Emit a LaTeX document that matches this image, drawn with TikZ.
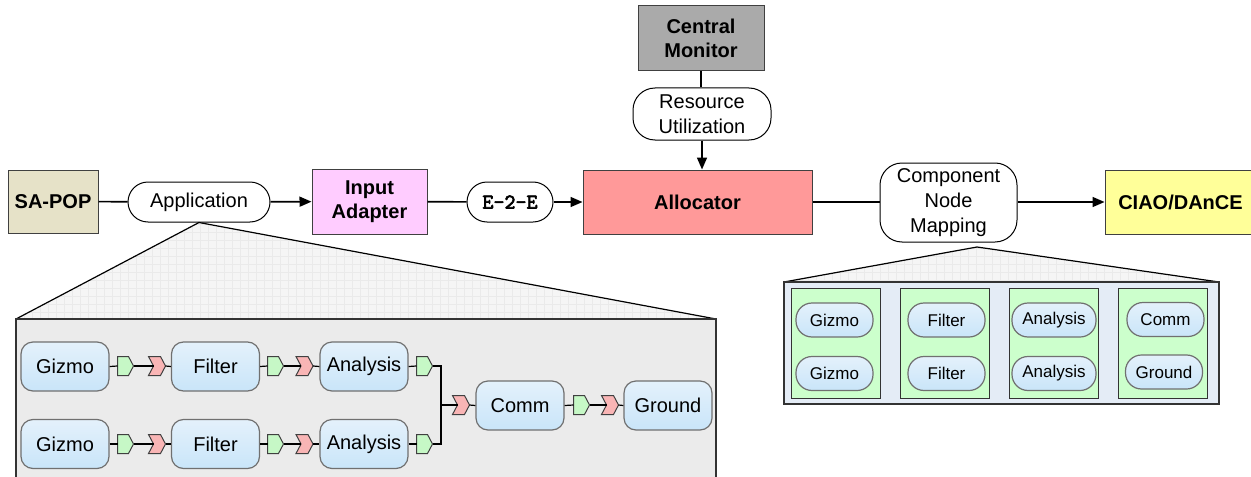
\documentclass[tikz,border=0pt]{standalone}
\usepackage{fontspec}
\setmainfont{Liberation Sans}
\newfontfamily\etefont[FakeBold=3]{Latin Modern Mono}
\usetikzlibrary{arrows.meta}
\definecolor{sapopc}{HTML}{E6E2C8}
\definecolor{iac}{HTML}{FFCCFF}
\definecolor{allocc}{HTML}{FF9999}
\definecolor{cmc}{HTML}{AAAAAA}
\definecolor{ciaoc}{HTML}{FFFF99}
\definecolor{comptop}{HTML}{E4F1FB}
\definecolor{compbot}{HTML}{C9E5F9}
\definecolor{compline}{HTML}{707070}
\definecolor{portgreen}{HTML}{C6F8C6}
\definecolor{portred}{HTML}{F9B5B5}
\definecolor{panelgray}{HTML}{EBEBEB}
\definecolor{trigray}{HTML}{F5F5F5}
\definecolor{gridc}{HTML}{EAEAEA}
\definecolor{panelblue}{HTML}{E4ECF6}
\definecolor{colgreen}{HTML}{CCFFCC}
\tikzset{
  box/.style={draw=black!75, line width=0.5pt, inner sep=0pt, align=center,
    font=\fontsize{10}{12}\selectfont\bfseries},
  pill/.style={draw=black, line width=0.5pt, fill=white, inner sep=0pt, align=center,
    font=\fontsize{10}{12.3}\selectfont},
  conn/.style={line width=0.8pt},
  arr/.style={line width=0.8pt, -{Triangle[length=6pt,width=5pt]}},
  comp/.style={draw=compline, line width=0.6pt, rounded corners=6pt, top color=comptop,
    bottom color=compbot, minimum width=44pt, minimum height=24.5pt, inner sep=0pt,
    font=\fontsize{10}{12}\selectfont},
  mcomp/.style={draw=compline, line width=0.6pt, rounded corners=8pt, top color=comptop,
    bottom color=compbot, minimum width=38.5pt, minimum height=17pt, inner sep=0pt,
    font=\fontsize{8.5}{10}\selectfont},
  colbox/.style={draw=black!80, line width=0.5pt, fill=colgreen, minimum width=44.5pt,
    minimum height=55pt, inner sep=0pt},
  pline/.style={line width=0.6pt},
  outport/.pic={\filldraw[fill=portgreen, draw=black!75, line width=0.5pt]
      (-8,-9.5) -- (3,-9.5) -- (8,0) -- (3,9.5) -- (-8,9.5) -- cycle;
    \coordinate (-w) at (-8,0); \coordinate (-e) at (8,0);},
  inport/.pic={\filldraw[fill=portred, draw=black!75, line width=0.5pt]
      (-8.5,-9.5) -- (3.5,-9.5) -- (8.5,0) -- (3.5,9.5) -- (-8.5,9.5) -- (-3.5,0) -- cycle;
    \coordinate (-w) at (-3.5,0); \coordinate (-e) at (8.5,0);}
}
\begin{document}
\begin{tikzpicture}[x=0.5pt,y=-0.5pt]
\useasboundingbox (0,0) rectangle (1251,476);

% top row nodes
\node[box, fill=sapopc, minimum width=45pt, minimum height=31.5pt] (sapop) at (53,201.5) {SA-POP};
\node[pill, rounded corners=10pt, minimum width=71pt, minimum height=20pt] (app) at (199,202) {Application};
\node[box, fill=iac, minimum width=57.5pt, minimum height=32.5pt] (ia) at (369.5,201.5) {Input\\Adapter};
\node[pill, rounded corners=10pt, minimum width=43pt, minimum height=20pt,
  font=\etefont\fontsize{10.5}{11}\selectfont] (e2e) at (510,202) {E–2–E};
\node[box, fill=allocc, minimum width=114.5pt, minimum height=32pt] (alloc) at (697.5,202) {Allocator};
\node[box, fill=cmc, minimum width=63pt, minimum height=32.5pt] (cm) at (701,38.5) {Central\\Monitor};
\node[pill, rounded corners=11pt, minimum width=69pt, minimum height=26pt] (ru) at (702,114) {Resource\\Utilization};
\node[pill, rounded corners=11pt, minimum width=68.5pt, minimum height=39.5pt] (cnm) at (948.5,202.5) {Component\\Node\\Mapping};
\node[box, fill=ciaoc, minimum width=75.5pt, minimum height=32pt] (ciao) at (1180.5,202) {CIAO/DAnCE};

% connectors top row
\draw[conn] (sapop) -- (app);
\draw[arr] (app) -- (ia);
\draw[conn] (ia) -- (e2e);
\draw[arr] (e2e) -- (alloc);
\draw[conn] (cm.south) -- (cm.south |- ru.north);
\draw[arr] (ru.south) -- (ru.south |- alloc.north);
\draw[conn] (alloc.east) -- (alloc.east -| cnm.west);
\draw[arr] (cnm.east |- ciao.west) -- (ciao.west);

% left magnification
\coordinate (lpTL) at (16,319);
\coordinate (lpTR) at (716,319);
\coordinate (lpBR) at (716,490);
\begin{scope}
  \clip (app.south) -- (lpTL) -- (lpTR) -- cycle;
  \fill[trigray] (0,200) rectangle (760,330);
  \draw[gridc, line width=0.3pt, step=4pt] (0,200) grid (760,330);
\end{scope}
\draw[line width=0.6pt] (lpTL) -- (app.south) -- (lpTR);
\filldraw[fill=panelgray, draw=black!80, line width=0.6pt] (lpTL) rectangle (lpBR);

% components
\node[comp] (g1) at (65,366.5) {Gizmo};
\node[comp] (f1) at (215.5,366.5) {Filter};
\node[comp] (a1) at (364,366.5) {Analysis};
\node[comp] (g2) at (65,444) {Gizmo};
\node[comp] (f2) at (215.5,444) {Filter};
\node[comp] (a2) at (364,444) {Analysis};
\node[comp] (comm) at (520,405.5) {Comm};
\node[comp] (gnd) at (668,405.5) {Ground};

% ports
\pic (g1o) at (125.5,366) {outport};
\pic (g1i) at (157,366) {inport};
\pic (f1o) at (275.5,366) {outport};
\pic (f1i) at (304.5,366) {inport};
\pic (a1o) at (424.5,366) {outport};
\pic (g2o) at (125.5,444) {outport};
\pic (g2i) at (157,444) {inport};
\pic (f2o) at (275.5,444) {outport};
\pic (f2i) at (304.5,444) {inport};
\pic (a2o) at (424.5,444) {outport};
\pic (ci) at (461,405) {inport};
\pic (co) at (581.5,405) {outport};
\pic (gi) at (610,405) {inport};

\coordinate (jtop) at (441,366);
\coordinate (jbot) at (441,444);
\coordinate (jmid) at (441,405);

\draw[pline] (g1.east) -- (g1o-w);
\draw[pline] (g1o-e) -- (g1i-w);
\draw[pline] (g1i-e) -- (f1.west);
\draw[pline] (f1.east) -- (f1o-w);
\draw[pline] (f1o-e) -- (f1i-w);
\draw[pline] (f1i-e) -- (a1.west);
\draw[pline] (a1.east) -- (a1o-w);
\draw[pline] (g2.east) -- (g2o-w);
\draw[pline] (g2o-e) -- (g2i-w);
\draw[pline] (g2i-e) -- (f2.west);
\draw[pline] (f2.east) -- (f2o-w);
\draw[pline] (f2o-e) -- (f2i-w);
\draw[pline] (f2i-e) -- (a2.west);
\draw[pline] (a2.east) -- (a2o-w);
\draw[pline] (a1o-e) -- (jtop) -- (jbot) -- (a2o-e);
\draw[pline] (jmid) -- (ci-w);
\draw[pline] (ci-e) -- (comm.west);
\draw[pline] (comm.east) -- (co-w);
\draw[pline] (co-e) -- (gi-w);
\draw[pline] (gi-e) -- (gnd.west);

% right magnification
\coordinate (rapex) at (977,247);
\coordinate (rpTL) at (784,282);
\coordinate (rpTR) at (1219,282);
\coordinate (rpBR) at (1219,404);
\begin{scope}
  \clip (rapex) -- (rpTL) -- (rpTR) -- cycle;
  \fill[trigray] (770,240) rectangle (1230,290);
  \draw[gridc, line width=0.3pt, step=4pt] (770,240) grid (1230,290);
\end{scope}
\draw[line width=0.6pt] (rpTL) -- (rapex) -- (rpTR);
\filldraw[fill=panelblue, draw=black!80, line width=0.6pt] (rpTL) rectangle (rpBR);

\node[colbox] (c1) at (835.5,343) {};
\node[colbox] (c2) at (944.5,343) {};
\node[colbox] (c3) at (1053.5,343) {};
\node[colbox] (c4) at (1163,343) {};

\node[mcomp] (mg1) at (834.5,320) {Gizmo};
\node[mcomp] (mg2) at (834.5,373.5) {Gizmo};
\node[mcomp] (mf1) at (946.5,320) {Filter};
\node[mcomp] (mf2) at (946.5,373.5) {Filter};
\node[mcomp, minimum width=42pt] (ma1) at (1054,320) {Analysis};
\node[mcomp, minimum width=42pt] (ma2) at (1054,373.5) {Analysis};
\node[mcomp] (mc) at (1165.5,319.5) {Comm};
\node[mcomp] (mgr) at (1164,372) {Ground};
\end{tikzpicture}
\end{document}
